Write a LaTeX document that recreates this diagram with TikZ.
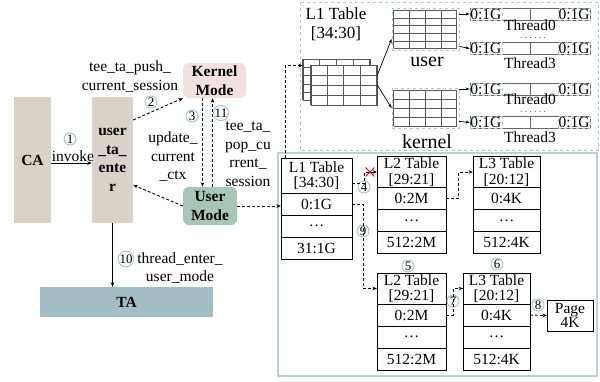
\documentclass[tikz,border=0pt]{standalone}
\usepackage{fontspec}
\setmainfont{Liberation Serif}
\usetikzlibrary{positioning,arrows.meta,shapes.misc}
\definecolor{boxtan}{RGB}{217,211,199}
\definecolor{kernelpink}{RGB}{242,226,222}
\definecolor{usergreen}{RGB}{168,197,186}
\definecolor{tablue}{RGB}{162,190,196}
\definecolor{panelgreen}{RGB}{187,211,202}
\definecolor{paneldash}{RGB}{175,196,203}
\definecolor{tagring}{RGB}{160,200,186}
\newcommand{\figfont}{\fontsize{15.5}{18.5}\selectfont}
\newcommand{\headfont}{\fontsize{15.5}{15.5}\selectfont}
\newcommand{\tagfont}{\fontsize{13}{13}\selectfont}
\pgfdeclarelayer{background layer}
\pgfsetlayers{background layer,main}
\tikzstyle{stage}=[fill=boxtan,inner sep=0pt,align=center,font=\figfont\bfseries]
\tikzstyle{modebox}=[rounded corners=6pt,inner sep=0pt,align=center,font=\figfont\bfseries]
\tikzstyle{tabcell}=[draw,fill=white,line width=1pt,outer sep=0pt,inner sep=0pt,minimum height=22pt,align=center,font=\figfont]
\tikzstyle{tabhead}=[tabcell,minimum height=31pt,font=\headfont]
\tikzstyle{numtag}=[circle,draw=tagring,line width=0.9pt,inner sep=0pt,minimum size=12pt,font=\tagfont]
\tikzstyle{dline}=[line width=0.9pt,dash pattern=on 3pt off 2pt,-{Stealth[length=4.5pt,width=3.5pt]}]
\tikzstyle{sline}=[line width=0.9pt,-{Stealth[length=4.5pt,width=3.5pt]}]
\tikzstyle{tarrow}=[line width=0.7pt,-{Stealth[length=4pt,width=3pt]}]
\tikzstyle{stackbox}=[draw=black!70,fill=white,line width=0.6pt,inner sep=0pt]
\tikzstyle{gridbox}=[draw=paneldash,dashed,fill=white,inner sep=0pt,line width=0.8pt]
\tikzstyle{gridline}=[draw=black!65,line width=0.6pt]
\tikzstyle{tbar}=[draw=black!60,line width=0.8pt,minimum width=120pt,minimum height=12pt,inner sep=0pt]
\tikzstyle{tbtext}=[draw=paneldash,dashed,inner sep=0.6pt,font=\figfont]
\tikzstyle{tlabel}=[inner sep=0pt]
\tikzstyle{tdots}=[inner sep=0pt,font=\fontsize{8}{8}\selectfont]

\begin{document}
\begin{tikzpicture}[x=1pt,y=-1pt,font=\figfont]
\useasboundingbox (0,0) rectangle (600,381);
			% caller side
			\node (ca) at (32.5,160) [stage,minimum width=37pt,minimum height=126pt] {CA};
			\node (uta) at (112.5,160) [stage,minimum width=41pt,minimum height=126pt] {user\\\_ta\_\\ente\\r};
			\node (ta) at (126.5,302) [stage,fill=tablue,minimum width=173pt,minimum height=30pt] {TA};
			\node (kmode) at (214.5,80.5) [modebox,fill=kernelpink,minimum width=63pt,minimum height=35pt] {Kernel\\Mode};
			\node (umode) at (210,206) [modebox,fill=usergreen,minimum width=54pt,minimum height=38pt] {User\\Mode};
			\node (n1) at (70,139) [numtag] {1};
			\node (invk) at (73,156) {invoke};
			\node (push) at (130,76.5) [align=center] {tee\_ta\_push\_\\current\_session};
			\node (n2) at (151,102) [numtag] {2};
			\node (n3) at (192,116) [numtag] {3};
			\node (upd) at (173,157) [align=center] {update\_\\current\\\_ctx};
			\node (n11) at (221,113) [numtag] {11};
			\node (pop) at (248,154) [align=center] {tee\_ta\_\\pop\_cu\\rrent\_\\session};
			\node (n10) at (126,259) [numtag] {10};
			\node (enter) at (180,268) [align=center] {thread\_enter\_\\user\_mode};
			% top panel: per-thread tables
			\node (l1cap) at (336,24) [align=center,font=\fontsize{17}{18.5}\selectfont] {L1 Table\\{[34:30]}};
			\node (l1back) at (336.5,79.5) [stackbox,minimum width=67pt,minimum height=41pt] {};
			\draw[gridline,shift={(l1back.south west)}] (0,0) grid[xstep=16.75pt,ystep=8.2pt] (67,-41);
			\node (l1front) at (344,85) [stackbox,minimum width=66pt,minimum height=40pt] {};
			\draw[gridline,shift={(l1front.south west)}] (0,0) grid[xstep=16.5pt,ystep=10pt] (66,-40);
			\node (usergrid) at (425.5,29) [gridbox,minimum width=67pt,minimum height=42pt] {};
			\draw[gridline,shift={([shift={(2pt,2pt)}]usergrid.south west)}] (0,0) grid[xstep=15.75pt,ystep=7.6pt] (63,-38);
			\node (kernelgrid) at (425.5,108) [gridbox,minimum width=67pt,minimum height=40pt] {};
			\draw[gridline,shift={([shift={(2pt,2pt)}]kernelgrid.south west)}] (0,0) grid[xstep=15.75pt,ystep=9pt] (63,-36);
			\node (ulab) at (427,62) [font=\fontsize{20}{20}\selectfont] {user};
			\node (klab) at (427,142) [font=\fontsize{20}{20}\selectfont] {kernel};
			\node (ub0) at (530,14) [tbar] {};
			\node (ub0a) at (ub0.west) [tbtext,anchor=west] {0:1G};
			\node (ub0b) at (ub0.east) [tbtext,anchor=east] {0:1G};
			\node (ut0) at (530,25) [tlabel] {Thread0};
			\node (udots) at (533,38) [tdots] {. . . . . .};
			\node (ub3) at (530,48.5) [tbar] {};
			\node (ub3a) at (ub3.west) [tbtext,anchor=west] {0:1G};
			\node (ub3b) at (ub3.east) [tbtext,anchor=east] {0:1G};
			\node (ut3) at (530,63) [tlabel] {Thread3};
			\node (kb0) at (530,89) [tbar] {};
			\node (kb0a) at (kb0.west) [tbtext,anchor=west] {0:1G};
			\node (kb0b) at (kb0.east) [tbtext,anchor=east] {0:1G};
			\node (kt0) at (530,99) [tlabel] {Thread0};
			\node (kdots) at (533,112.5) [tdots] {. . . . . .};
			\node (kb3) at (530,122.5) [tbar] {};
			\node (kb3a) at (kb3.west) [tbtext,anchor=west] {0:1G};
			\node (kb3b) at (kb3.east) [tbtext,anchor=east] {0:1G};
			\node (kt3) at (530,137) [tlabel] {Thread3};
			\draw[black!60,line width=0.8pt] (ub0.north) -- (ub0.south);
			\draw[black!60,line width=0.8pt] (ub3.north) -- (ub3.south);
			\draw[black!60,line width=0.8pt] (kb0.north) -- (kb0.south);
			\draw[black!60,line width=0.8pt] (kb3.north) -- (kb3.south);
			% page walk panel
			\node (l1head) at (316.5,175.5) [tabhead,minimum width=71pt,minimum height=35pt] {L1 Table\\{[34:30]}};
			\node (l1r1) [tabcell,minimum width=71pt,below=0pt of l1head] {0:1G};
			\node (l1r2) [tabcell,minimum width=71pt,below=0pt of l1r1] {\dots};
			\node (l1r3) [tabcell,minimum width=71pt,below=0pt of l1r2] {31:1G};
			\node (l2head) at (411.5,172) [tabhead,minimum width=69pt] {L2 Table\\{[29:21]}};
			\node (l2r1) [tabcell,minimum width=69pt,below=0pt of l2head] {0:2M};
			\node (l2r2) [tabcell,minimum width=69pt,below=0pt of l2r1] {\dots};
			\node (l2r3) [tabcell,minimum width=69pt,below=0pt of l2r2] {512:2M};
			\node (l3head) at (506.5,172) [tabhead,minimum width=67pt] {L3 Table\\{[20:12]}};
			\node (l3r1) [tabcell,minimum width=67pt,below=0pt of l3head] {0:4K};
			\node (l3r2) [tabcell,minimum width=67pt,below=0pt of l3r1] {\dots};
			\node (l3r3) [tabcell,minimum width=67pt,below=0pt of l3r2] {512:4K};
			\node (l2bhead) at (411.5,288.5) [tabhead,minimum width=69pt] {L2 Table\\{[29:21]}};
			\node (l2br1) [tabcell,minimum width=69pt,below=0pt of l2bhead] {0:2M};
			\node (l2br2) [tabcell,minimum width=69pt,below=0pt of l2br1] {\dots};
			\node (l2br3) [tabcell,minimum width=69pt,below=0pt of l2br2] {512:2M};
			\node (l3bhead) at (496.5,288.5) [tabhead,minimum width=67pt] {L3 Table\\{[20:12]}};
			\node (l3br1) [tabcell,minimum width=67pt,below=0pt of l3bhead] {0:4K};
			\node (l3br2) [tabcell,minimum width=67pt,below=0pt of l3br1] {\dots};
			\node (l3br3) [tabcell,minimum width=67pt,below=0pt of l3br2] {512:4K};
			\node (page) at (570,315.5) [tabcell,minimum width=46pt,minimum height=31pt,font=\fontsize{15.5}{12}\selectfont] {Page\\4K};
			\node (blk) at (370,172) [cross out,draw=red,line width=0.9pt,minimum size=8pt,inner sep=0pt] {};
			\node (n4) at (364,187) [numtag] {4};
			\node (n9) at (363,231) [numtag] {9};
			\node (n5) at (408,266) [numtag] {5};
			\node (n6) at (497,264) [numtag] {6};
			\node (n7) at (453,301) [numtag] {7};
			\node (n8) at (538,305) [numtag] {8};
			\coordinate (tap) at (285,158);
			% connectors
			\draw[sline] ([yshift=-3pt]ca.east) -- ([yshift=-3pt]uta.west);
			\draw[dline] ([yshift=40pt]uta.east) -- (kmode.south west);
			\draw[dline] (umode.west) -- ([yshift=-25pt]uta.east);
			\draw[dline] ([xshift=-12pt]kmode.south) -- ([xshift=-12pt]kmode.south |- umode.north);
			\draw[dline] ([xshift=-2pt]kmode.south |- umode.north) -- ([xshift=-2pt]kmode.south);
			\draw[sline] (uta.south) -- (uta.south |- ta.north);
			\draw[dline] (umode.east) -- (umode.east -| l1r1.west);
			\draw[dline] (tap) |- ([yshift=14pt]l1back.west);
			\draw[tarrow] ([yshift=10pt]l1front.east) -- ([yshift=-10pt]usergrid.west);
			\draw[tarrow] (l1front.east) -- (kernelgrid.west);
			\draw[tarrow] (usergrid.east |- ub0.west) -- (ub0.west);
			\draw[tarrow] ([yshift=4pt]usergrid.south east) -- (ub3.west);
			\draw[tarrow] (kernelgrid.east |- kb0.west) -- (kb0.west);
			\draw[tarrow] ([yshift=7pt]kernelgrid.south east) -- (kb3.west);
			\draw[dline] ([yshift=-8pt]l1head.east) -| ([xshift=-13pt]l2head.west) -- (l2head.west);
			\draw[dline] (l1r1.east) -| ([xshift=-14pt]l2bhead.west) -- (l2bhead.west);
			\draw[dline] (l2r1.east) -| ([xshift=-15pt]l3head.west) -- (l3head.west);
			\draw[dline] (l2br1.east) -| ([xshift=-10pt]l3bhead.west) -- (l3bhead.west);
			\draw[dline] (l3br1.east) -- (page.west);
			\begin{pgfonlayer}{background layer}
				\draw[paneldash,dashed,line width=0.9pt] (300,2) rectangle (598,150);
				\draw[panelgreen,line width=1.2pt] (278,153) rectangle (597,376);
			\end{pgfonlayer}
		\end{tikzpicture}
\end{document}
